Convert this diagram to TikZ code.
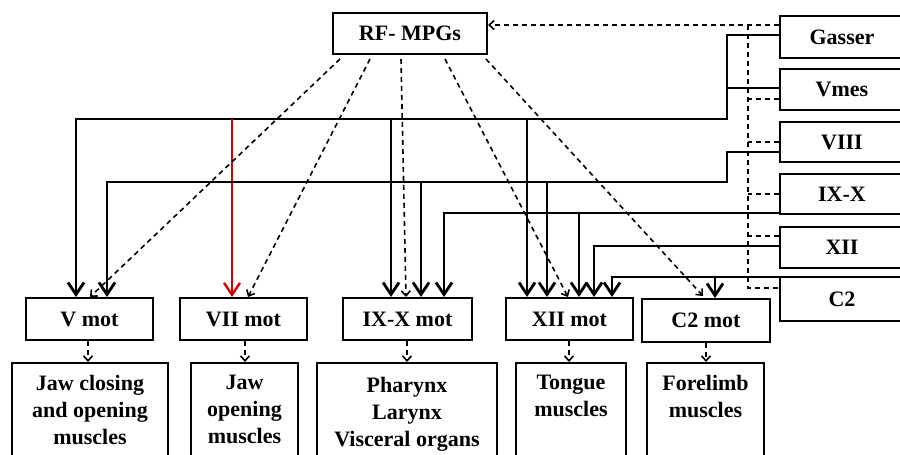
\documentclass[tikz,border=0pt]{standalone}
\usepackage{fontspec}
\setmainfont{Liberation Serif}
\usetikzlibrary{arrows.meta,calc}
\begin{document}
\begin{tikzpicture}[x=1pt,y=-1pt,
  box/.style={draw,line width=2pt,inner sep=0pt,font=\fontsize{22}{27}\selectfont\bfseries},
  txt/.style={inner sep=0pt,align=center,font=\fontsize{22}{27}\selectfont\bfseries},
  solidline/.style={line width=2.8pt},
  solidarrow/.style={line width=2.8pt,-{Straight Barb[length=12pt,width=16pt]}},
  redarrow/.style={solidarrow,color=red!85!black,line width=2.4pt},
  dashline/.style={line width=1.6pt,dash pattern=on 5pt off 4pt},
  dasharrow/.style={dashline,-{Straight Barb[length=5pt,width=9pt]}},
]
\useasboundingbox (0,0) rectangle (900,455);
\clip (0,0) rectangle (900,455);
% top box
\node[box,minimum width=154pt,minimum height=41pt] (rf) at (410,33.5) {RF- MPGs};
% right column
\node[box,minimum width=124pt,minimum height=42pt] (gasser) at (842,37) {Gasser};
\node[box,minimum width=124pt,minimum height=41pt] (vmes) at (842,89.5) {Vmes};
\node[box,minimum width=124pt,minimum height=40pt] (viii) at (842,142) {VIII};
\node[box,minimum width=124pt,minimum height=40pt] (ixx) at (842,194) {IX-X};
\node[box,minimum width=124pt,minimum height=41pt] (xii) at (842,247.5) {XII};
\node[box,minimum width=124pt,minimum height=44pt] (c2) at (842,299) {C2};
% motor nuclei
\node[box,minimum width=127pt,minimum height=42pt] (vmot) at (89.5,319) {V mot};
\node[box,minimum width=127pt,minimum height=42pt] (viimot) at (243.5,319) {VII mot};
\node[box,minimum width=129pt,minimum height=42pt] (ixmot) at (407.5,319) {IX-X mot};
\node[box,minimum width=127pt,minimum height=42pt] (xiimot) at (569.5,319) {XII mot};
\node[box,minimum width=128pt,minimum height=43pt] (c2mot) at (706,320.5) {C2 mot};
% targets
\node[box,minimum width=156pt,minimum height=110pt,anchor=north] (tjaw) at (90,362) {};
\node[box,minimum width=107pt,minimum height=110pt,anchor=north] (tjawo) at (244.5,362) {};
\node[box,minimum width=180pt,minimum height=110pt,anchor=north] (tphar) at (407,362) {};
\node[box,minimum width=110pt,minimum height=110pt,anchor=north] (ttong) at (571,362) {};
\node[box,minimum width=117pt,minimum height=110pt,anchor=north] (tfore) at (705.5,362) {};
\node[txt,anchor=north] (tjawt) at ($(tjaw.north)+(0,13)$) {Jaw closing\\and opening\\muscles};
\node[txt,anchor=north] (tjawot) at ($(tjawo.north)+(0,13)$) {Jaw\\opening\\muscles};
\node[txt,anchor=north] (tphart) at ($(tphar.north)+(0,15)$) {Pharynx\\Larynx\\Visceral organs};
\node[txt,anchor=north] (ttongt) at ($(ttong.north)+(0,13)$) {Tongue\\muscles};
\node[txt,anchor=north] (tforet) at ($(tfore.north)+(0,13)$) {Forelimb\\muscles};

% dashed feedback from Gasser etc. to RF-MPGs
\coordinate (dtop) at (748,25);
\coordinate (dbot) at (748,288);
\draw[dasharrow] (gasser.west |- dtop) -- (rf.east |- dtop);
\draw[dashline] (dtop) -- (dbot) -- (c2.west |- dbot);
\draw[dashline] (vmes.west |- 0,99) -- (748,99);
\draw[dashline] (viii.west |- 0,142) -- (748,142);
\draw[dashline] (ixx.west |- 0,194) -- (748,194);
\draw[dashline] (xii.west |- 0,236) -- (748,236);

% solid projections
\coordinate (gbend) at (727,119);
\coordinate (vbend) at (727,182);
\draw[solidarrow] (gasser.west |- 0,35) -| (gbend) -| (vmot.north -| 76,0);
\draw[solidline] (vmes.west |- 0,88) -- (gbend |- 0,88);
\draw[solidarrow] (391,119) -- (ixmot.north -| 391,0);
\draw[solidarrow] (527,119) -- (xiimot.north -| 527,0);
\draw[redarrow] (232,119) -- (viimot.north -| 232,0);

\draw[solidarrow] (viii.west |- 0,152) -| (vbend) -| (vmot.north -| 107,0);
\draw[solidarrow] (421,182) -- (ixmot.north -| 421,0);
\draw[solidarrow] (547,182) -- (xiimot.north -| 547,0);

\draw[solidarrow] (ixx.west |- 0,213) -| (ixmot.north -| 444,0);
\draw[solidarrow] (579,213) -- (xiimot.north -| 579,0);

\draw[solidarrow] (xii.west |- 0,246) -| (xiimot.north -| 594,0);

\draw[solidarrow] (c2.west |- 0,277) -| (xiimot.north -| 612,0);
\draw[solidarrow] (715,277) -- (c2mot.north -| 715,0);

% dashed from RF-MPGs
\path (rf.south) ++(0,4) coordinate (rfs);
\draw[dasharrow] (rfs -| 340,0) -- (vmot.north -| 90,0);
\draw[dasharrow] (rfs -| 370,0) -- (viimot.north -| 248,0);
\draw[dasharrow] (rfs -| 401,0) -- (ixmot.north -| 406,0);
\draw[dasharrow] (rfs -| 445,0) -- (xiimot.north -| 568,0);
\draw[dasharrow] (rfs -| 486,0) -- ($(c2mot.north -| 703,0)+(0,-2)$);

% dashed to targets
\draw[dasharrow] (vmot.south -| 88,0) -- (tjaw.north -| 88,0);
\draw[dasharrow] (viimot.south -| 245,0) -- (tjawo.north -| 245,0);
\draw[dasharrow] (ixmot.south -| 407,0) -- (tphar.north -| 407,0);
\draw[dasharrow] (xiimot.south -| 569,0) -- (ttong.north -| 569,0);
\draw[dasharrow] (c2mot.south -| 706,0) -- (tfore.north -| 706,0);
\end{tikzpicture}
\end{document}
